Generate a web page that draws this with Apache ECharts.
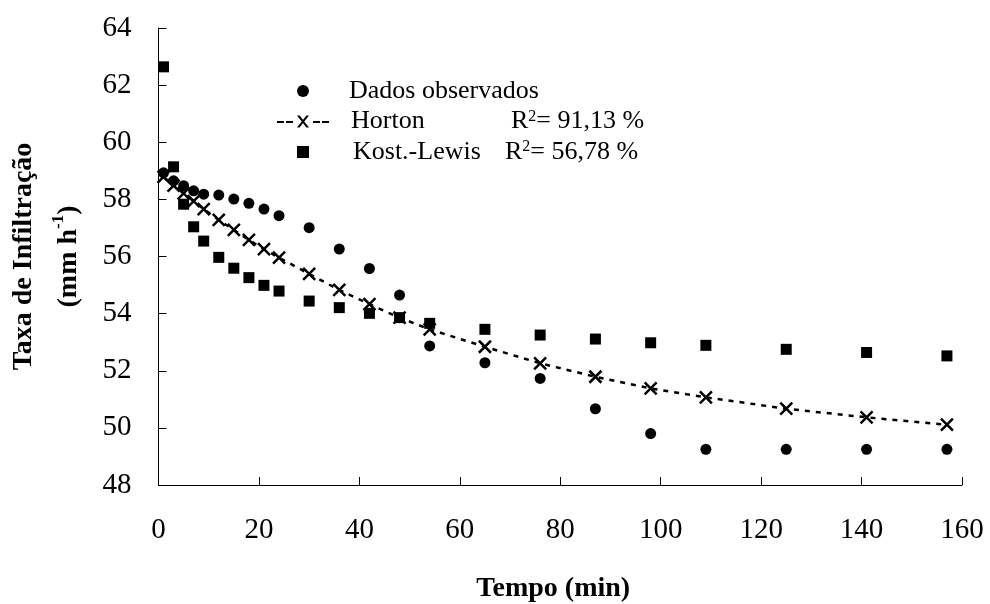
<!DOCTYPE html>
<html>
<head>
<meta charset="utf-8">
<script src="https://cdn.jsdelivr.net/npm/echarts@6/dist/echarts.min.js"></script>
<style>html,body{margin:0;padding:0;background:#fff;}#c{width:990px;height:604px;}</style>
</head>
<body>
<div id="c"></div>
<script>
var tempo = [1,3,5,7,9,12,15,18,21,24,30,36,42,48,54,65,76,87,98,109,125,141,157];
var observados = [58.93,58.65,58.48,58.30,58.18,58.15,58.01,57.86,57.66,57.43,57.01,56.26,55.58,54.65,52.87,52.28,51.73,50.67,49.80,49.25,49.25,49.25,49.25];
var horton = [58.79,58.48,58.21,57.94,57.66,57.28,56.93,56.58,56.26,55.96,55.39,54.83,54.33,53.86,53.45,52.84,52.26,51.79,51.38,51.07,50.67,50.37,50.11];
var kostLewis = [62.64,59.14,57.83,57.04,56.54,55.97,55.59,55.26,54.99,54.79,54.44,54.21,54.01,53.86,53.66,53.45,53.25,53.11,52.98,52.89,52.75,52.64,52.52];
var seriesNames = ['Dados observados','Horton','Kost.-Lewis'];
var r2Labels = {'Horton':'= 91,13 %','Kost.-Lewis':'= 56,78 %'};
var xTicks = {min:0, max:160, interval:20};
var yTicks = {min:48, max:64, interval:2};

function pairs(xs, ys){ return xs.map(function(x,i){return [x, ys[i]];}); }

var FONT = '"Liberation Serif","Times New Roman",serif';
var SQUARE = 'path://M0,0L10,0L10,10L0,10Z';
var HORTON_ICON = 'path://M0,5.5L7,5.5L7,7.5L0,7.5Z M9,5.5L16,5.5L16,7.5L9,7.5Z ' +
  'M20,0L22.6,0L32,12L29.4,12Z M29.4,0L32,0L22.6,12L20,12Z ' +
  'M36,5.5L43,5.5L43,7.5L36,7.5Z M45,5.5L52,5.5L52,7.5L45,7.5Z';
var chart = echarts.init(document.getElementById('c'), null, {renderer:'canvas'});
chart.setOption({
  backgroundColor:'#fff',
  animation:false,
  textStyle:{fontFamily:FONT, color:'#000'},
  grid:{left:158.5, right:28, top:28, bottom:119, containLabel:false, outerBoundsMode:'none'},
  legend:{
    orient:'vertical', left:272, top:73, itemWidth:52, itemHeight:12, itemGap:4.5,
    data:[
      {name:seriesNames[0]},
      {name:seriesNames[1], icon:HORTON_ICON, itemStyle:{color:'#000', borderWidth:0}},
      {name:seriesNames[2]}
    ],
    textStyle:{
      fontFamily:FONT, fontSize:26, color:'#000',
      rich:{
        g15:{width:15, fontSize:26, fontFamily:FONT},
        g17:{width:17, fontSize:26, fontFamily:FONT},
        g19:{width:19, fontSize:26, fontFamily:FONT},
        d:{fontSize:26, fontFamily:FONT, color:'#000'},
        h:{width:160, fontSize:26, fontFamily:FONT, color:'#000'},
        k:{width:152, fontSize:26, fontFamily:FONT, color:'#000'},
        r:{fontSize:26, fontFamily:FONT, color:'#000'},
        s:{fontSize:16, fontFamily:FONT, color:'#000', verticalAlign:'top'},
        e:{fontSize:26, fontFamily:FONT, color:'#000'}
      }
    },
    formatter:function(name){
      if(name==='Dados observados') return '{g15| }{d|'+name+'}';
      if(name==='Horton') return '{g17| }{h|'+name+'}{r|R}{s|2}{e|'+r2Labels[name]+'}';
      return '{g19| }{k|'+name+'}{r|R}{s|2}{e|'+r2Labels[name]+'}';
    }
  },
  xAxis:{
    type:'value', min:xTicks.min, max:xTicks.max, interval:xTicks.interval,
    name:'Tempo (min)', nameLocation:'middle', nameGap:90,
    nameTextStyle:{fontFamily:FONT, fontSize:28, fontWeight:'bold', color:'#000', padding:[0,14,0,0]},
    axisLine:{show:true, lineStyle:{color:'#000', width:1}},
    axisTick:{show:true, inside:true, length:8, lineStyle:{color:'#000'}},
    axisLabel:{fontFamily:FONT, fontSize:29, color:'#000', margin:31},
    splitLine:{show:false}
  },
  yAxis:{
    type:'value', min:yTicks.min, max:yTicks.max, interval:yTicks.interval,
    name:'{t|Taxa de Infiltração}\n{u|(mm h}{sup|-1}{u|)}',
    nameLocation:'middle', nameRotate:90, nameGap:66,
    nameTextStyle:{
      fontFamily:FONT, fontSize:28, fontWeight:'bold', color:'#000', lineHeight:45,
      rich:{
        t:{fontFamily:FONT, fontSize:28, fontWeight:'bold', color:'#000', lineHeight:45},
        u:{fontFamily:FONT, fontSize:28, fontWeight:'bold', color:'#000', lineHeight:45},
        sup:{fontFamily:FONT, fontSize:17, fontWeight:'bold', color:'#000', lineHeight:45, verticalAlign:'top', padding:[4,0,0,0]}
      }
    },
    axisLine:{show:true, lineStyle:{color:'#000', width:1}},
    axisTick:{show:true, inside:true, length:8, lineStyle:{color:'#000'}},
    axisLabel:{fontFamily:FONT, fontSize:29, color:'#000', margin:27},
    splitLine:{show:false}
  },
  series:[
    {
      name:seriesNames[0], type:'scatter', data:pairs(tempo, observados),
      symbol:'circle', symbolSize:11, itemStyle:{color:'#000', opacity:1}, z:3
    },
    {
      name:seriesNames[1], type:'line', data:pairs(tempo, horton),
      symbol:'path://M0,0L10,10M0,10L10,0', symbolSize:12, showAllSymbol:true,
      itemStyle:{color:'#000', borderColor:'#000', borderWidth:2.5, opacity:1},
      lineStyle:{color:'#000', width:2.5, type:[5,6]}, z:2
    },
    {
      name:seriesNames[2], type:'scatter', data:pairs(tempo, kostLewis),
      symbol:SQUARE, symbolSize:11, symbolKeepAspect:true, itemStyle:{color:'#000', opacity:1}, z:3
    }
  ]
});
</script>
</body>
</html>
